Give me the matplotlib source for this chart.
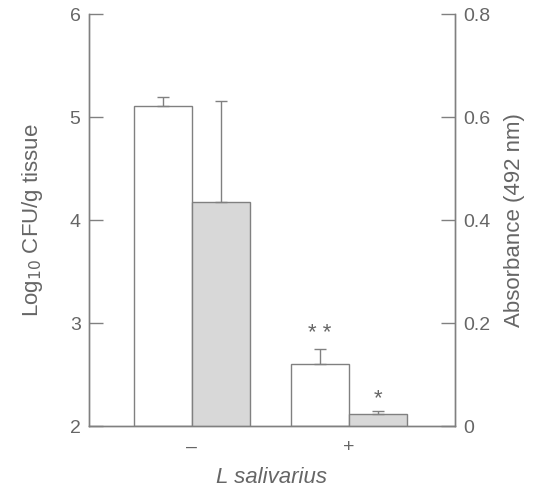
import matplotlib.pyplot as plt
import numpy as np

plt.rcParams['font.family'] = ['Liberation Sans', 'DejaVu Sans']

groups = ['\u2013', '+']
cfu = [5.11, 2.60]          # Log10 CFU/g tissue (left axis)
cfu_err = [0.09, 0.15]
absorb = [0.436, 0.023]     # Absorbance 492 nm (right axis)
absorb_err = [0.196, 0.006]
stars_cfu = ['', '* *']
stars_abs = ['', '*']

line_c = '#808080'
text_c = '#666666'

fig = plt.figure(figsize=(5.39, 4.88), dpi=100)
ax = fig.add_axes([0.165, 0.127, 0.679, 0.844])
ax2 = ax.twinx()

x = np.arange(len(groups))
w = 0.369

ax.bar(x - w / 2, np.array(cfu) - 2, w, bottom=2, color='white',
       edgecolor=line_c, linewidth=1)
ax.errorbar(x - w / 2, cfu, yerr=[np.zeros(2), cfu_err], fmt='none',
            ecolor=line_c, elinewidth=1, capsize=4.5, capthick=1)
ax2.bar(x + w / 2, absorb, w, color='#d8d8d8', edgecolor=line_c, linewidth=1)
ax2.errorbar(x + w / 2, absorb, yerr=[np.zeros(2), absorb_err], fmt='none',
             ecolor=line_c, elinewidth=1, capsize=4.5, capthick=1)

for i in range(len(groups)):
    if stars_cfu[i]:
        ax.text(x[i] - w / 2, cfu[i] + cfu_err[i] + 0.05, stars_cfu[i],
                ha='center', va='bottom', color=text_c, fontsize=16)
    if stars_abs[i]:
        ax2.text(x[i] + w / 2, absorb[i] + absorb_err[i] + 0.004, stars_abs[i],
                 ha='center', va='bottom', color=text_c, fontsize=16)

ax.set_xlim(-0.656, 1.675)
ax.set_ylim(2, 6)
ax2.set_ylim(0, 0.8)
ax.set_yticks([2, 3, 4, 5, 6])
ax2.set_yticks([0, 0.2, 0.4, 0.6, 0.8])
ax2.set_yticklabels(['0', '0.2', '0.4', '0.6', '0.8'])
ax.set_xticks(x)
ax.set_xticklabels(groups)

for a in (ax, ax2):
    a.spines['top'].set_visible(False)
    for s in a.spines.values():
        s.set_color(line_c)
        s.set_linewidth(1)
    a.tick_params(colors=line_c, labelcolor=text_c, labelsize=14,
                  direction='in', length=10, width=1, pad=6)
ax.tick_params(axis='x', length=0, pad=9)

ax.set_ylabel('Log$_{10}$ CFU/g tissue', color=text_c, fontsize=16, labelpad=18)
ax2.set_ylabel('Absorbance (492 nm)', color=text_c, fontsize=16, labelpad=10)
ax.set_xlabel('L salivarius', color=text_c, fontsize=16, style='italic', labelpad=8)

fig.savefig('out.png', dpi=100)
